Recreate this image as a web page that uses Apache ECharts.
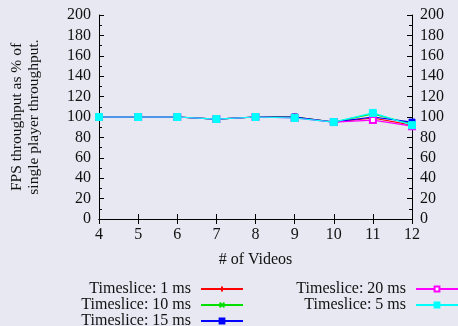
<!DOCTYPE html>
<html><head><meta charset="utf-8">
<script src="https://cdn.jsdelivr.net/npm/echarts@6/dist/echarts.min.js"></script>
<style>html,body{margin:0;padding:0;background:#e8e8f2;}#c{width:458px;height:326px;}</style>
</head><body><div id="c"></div>
<script>
const xValues = [4,5,6,7,8,9,10,11,12];
const yTicks = [0,20,40,60,80,100,120,140,160,180,200];
const seriesNames = ['Timeslice: 1 ms','Timeslice: 10 ms','Timeslice: 15 ms','Timeslice: 20 ms','Timeslice: 5 ms'];
const ts1 = [100,100,100,98,100,100,95,99,92];
const ts10 = [100,100,100,98,100,100,95,103,93];
const ts15 = [100,100,100,98,100,100,95,100,95];
const ts20 = [100,100,100,98,100,99,95,97,91];
const ts5 = [100,100,100,98,100,99,95,104,92];

const font = '"Liberation Serif", "Times New Roman", serif';
const colors = ['#ff0000','#00e000','#0000ff','#ff00ff','#00ffff'];
const symbols = [
  'path://M5,0 L5,10 M0,5 L10,5',
  'path://M0,0 L10,10 M10,0 L0,10',
  'rect',
  'emptyRect',
  'rect'
];
const sizes = [7,6,6,6,7];
const allData = [ts1, ts10, ts15, ts20, ts5];

const series = allData.map((d,i)=>({
  name: seriesNames[i],
  type: 'line',
  data: d.map((v,j)=>[xValues[j], v]),
  symbol: symbols[i],
  symbolSize: sizes[i],
  showAllSymbol: true,
  lineStyle: {width: 1.2, color: colors[i]},
  itemStyle: {color: colors[i], borderColor: colors[i], borderWidth: (i<2?1.2:1)},
  z: 2+i,
  animation: false
}));

const chart = echarts.init(document.getElementById('c'));
const axisLbl = {fontFamily: font, fontSize: 16, color: '#111'};
const legendCommon = {
  orient: 'vertical', align: 'right', top: 281, height: 60, padding: 0,
  itemWidth: 42, itemHeight: 6, itemGap: 0,
  textStyle: {fontFamily: font, fontSize: 16, color: '#111', lineHeight: 16, padding: [0,5,0,0]}
};
chart.setOption({
  backgroundColor: '#e8e8f2',
  animation: false,
  grid: {left: 96, right: 46, top: 15, bottom: 107},
  xAxis: [{
    type: 'value', min: 4, max: 12, interval: 1, position: 'bottom',
    name: '# of Videos', nameLocation: 'middle', nameGap: 33,
    nameTextStyle: {fontFamily: font, fontSize: 16, color: '#111'},
    axisLine: {lineStyle: {color: '#000', width: 1}},
    axisTick: {inside: true, length: 5, lineStyle: {color: '#000'}},
    axisLabel: Object.assign({margin: 8}, axisLbl),
    splitLine: {show: false}
  },{
    type: 'value', min: 4, max: 12, interval: 1, position: 'top',
    axisLine: {show: true, lineStyle: {color: '#000', width: 1}},
    axisTick: {inside: true, length: 5, lineStyle: {color: '#000'}},
    axisLabel: {show: false}, splitLine: {show: false}
  }],
  yAxis: [{
    type: 'value', min: 0, max: 200, interval: 20, position: 'left',
    name: 'FPS throughput as % of\nsingle player throughput.',
    nameLocation: 'middle', nameGap: 57, nameRotate: 90,
    nameTextStyle: {fontFamily: font, fontSize: 15.5, color: '#111', lineHeight: 17},
    axisLine: {show: true, lineStyle: {color: '#000', width: 1}},
    axisTick: {inside: true, length: 5, lineStyle: {color: '#000'}},
    minorTick: {show: true, splitNumber: 2, length: 3, lineStyle: {color: '#000'}},
    axisLabel: Object.assign({margin: 8}, axisLbl),
    splitLine: {show: false}
  },{
    type: 'value', min: 0, max: 200, interval: 20, position: 'right',
    axisLine: {show: true, lineStyle: {color: '#000', width: 1}},
    axisTick: {inside: true, length: 5, lineStyle: {color: '#000'}},
    minorTick: {show: true, splitNumber: 2, length: 3, lineStyle: {color: '#000'}},
    axisLabel: Object.assign({margin: 8}, axisLbl),
    splitLine: {show: false}
  }],
  legend: [
    Object.assign({data: seriesNames.slice(0,3), right: 214}, legendCommon),
    Object.assign({data: seriesNames.slice(3), right: -1}, legendCommon)
  ],
  series: series
});
</script></body></html>
